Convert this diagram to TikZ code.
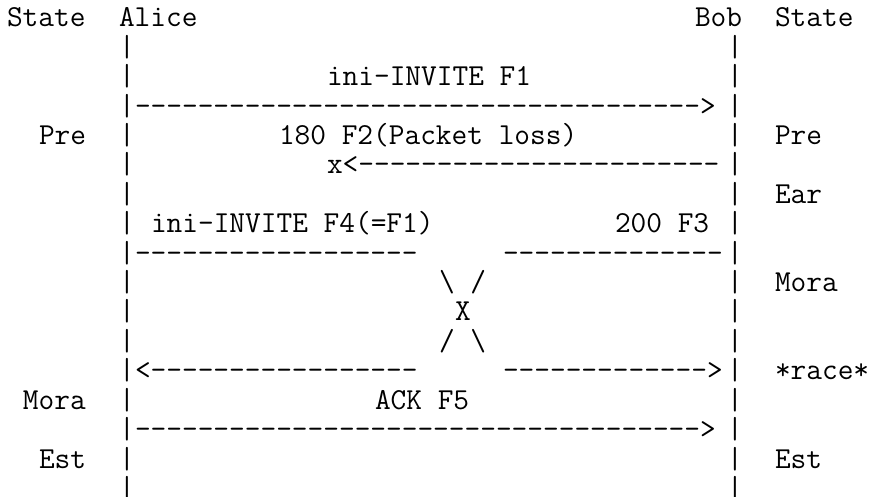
\documentclass[tikz,border=0pt]{standalone}
\usepackage{fontspec}
\setmonofont{Latin Modern Mono}
\tikzset{cell/.style={anchor=base west,inner sep=0pt,outer sep=0pt,font=\ttfamily\fontsize{30.48}{30}\selectfont}}
\newcommand{\dashrun}[1]{\foreach \k in {1,...,#1}{-}}

\begin{document}
\begin{tikzpicture}[x=16pt,y=-29.4pt]
    \useasboundingbox (0pt,0pt) rectangle (871pt,-497pt);
    \begin{scope}[shift={(7pt,-27pt)}]
    	% header
    	\node[cell] (stateA) at (0,0) {State};
    	\node[cell] (alice) at (7,0) {Alice};
    	\node[cell] (bob) at (43,0) {Bob};
    	\node[cell] (stateB) at (48,0) {State};
    	% lifelines
    	\foreach \r in {1,...,16} {
    		\node[cell] (alice\r) at (7,\r) {|};
    		\node[cell] (bob\r) at (45,\r) {|};
    	}
    	% messages
    	\node[cell] (f1) at (20,2) {ini-INVITE F1};
    	\node[cell] (f1arrow) at (8,3) {\dashrun{36}>};
    	\node[cell] (preA) at (2,4) {Pre};
    	\node[cell] (f2) at (17,4) {180 F2(Packet loss)};
    	\node[cell] (preB) at (48,4) {Pre};
    	\node[cell] (f2arrow) at (20,5) {x<\dashrun{23}};
    	\node[cell] (earB) at (48,6) {Ear};
    	\node[cell] (f4) at (9,7) {ini-INVITE F4(=F1)};
    	\node[cell] (f3) at (38,7) {200 F3};
    	\node[cell] (f4tail) at (8,8) {\dashrun{18}};
    	\node[cell] (f3tail) at (31,8) {\dashrun{14}};
    	\node[cell] (crossA) at (27,9) {\textbackslash{} /};
    	\node[cell] (moraB) at (48,9) {Mora};
    	\node[cell] (cross) at (28,10) {X};
    	\node[cell] (crossB) at (27,11) {/ \textbackslash};
    	\node[cell] (f3head) at (8,12) {<\dashrun{17}};
    	\node[cell] (f4head) at (31,12) {\dashrun{13}>};
    	\node[cell] (race) at (48,12) {*race*};
    	\node[cell] (moraA) at (1,13) {Mora};
    	\node[cell] (f5) at (23,13) {ACK F5};
    	\node[cell] (f5arrow) at (8,14) {\dashrun{36}>};
    	\node[cell] (estA) at (2,15) {Est};
    	\node[cell] (estB) at (48,15) {Est};
    \end{scope}
\end{tikzpicture}
\end{document}
